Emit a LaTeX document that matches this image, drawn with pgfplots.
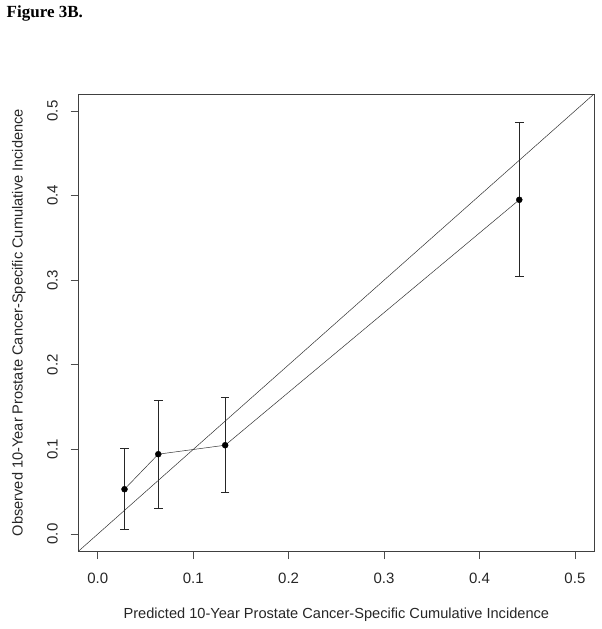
\documentclass[border=0pt]{standalone}
\usepackage{pgfplots}
\pgfplotsset{compat=1.18}
\usepackage{fontspec}
\setmainfont{Liberation Sans}
\newfontfamily\serifb{Liberation Serif}
\pgfplotstableread{
x y ep em
0.0280 0.0530 0.0485 0.0474
0.0634 0.0944 0.0632 0.0640
0.1335 0.1050 0.0570 0.0560
0.4417 0.3950 0.0910 0.0910
}\calib
\begin{document}
\begin{tikzpicture}
\useasboundingbox (0,0) rectangle (602pt,629pt);
\node[anchor=base west, inner sep=0pt] at (6.5pt,611.7pt) {\fontsize{17}{20}\selectfont\serifb\bfseries Figure 3B.};
\begin{axis}[
  at={(78.7pt,78pt)}, anchor=south west,
  scale only axis, width=515.3pt, height=457pt,
  xmin=-0.02, xmax=0.52, ymin=-0.02, ymax=0.52,
  xtick={0,0.1,0.2,0.3,0.4,0.5}, ytick={0,0.1,0.2,0.3,0.4,0.5},
  xticklabels={0.0,0.1,0.2,0.3,0.4,0.5}, yticklabels={0.0,0.1,0.2,0.3,0.4,0.5},
  tick align=outside, tick pos=left,
  major tick length=8pt,
  every tick/.style={black!70, line width=0.8pt},
  axis line style={black!75, line width=0.9pt},
  /pgf/number format/assume math mode=true,
  tick label style={font=\fontsize{15}{17}\selectfont, text=black!85},
  xticklabel style={anchor=base, yshift=-24pt},
  yticklabel style={rotate=90, anchor=south, yshift=9.5pt},
  label style={font=\fontsize{14.6}{17}\selectfont, text=black!85},
  xlabel={Predicted 10-Year Prostate Cancer-Specific Cumulative Incidence},
  ylabel={Observed 10-Year Prostate Cancer-Specific Cumulative Incidence},
  xlabel style={at={(axis description cs:0.5,-0.1400)}, anchor=center},
  ylabel style={at={(axis description cs:-0.1160,0.5)}, anchor=center},
  clip=true,
]
\addplot[black!80, line width=0.5pt] coordinates {(-0.02,-0.02) (0.52,0.52)};
\addplot[black!80, line width=0.5pt, mark=none] table[x=x,y=y] {\calib};
\addplot[only marks, mark=*, mark size=3pt, black,
  error bars/.cd, y dir=both, y explicit,
  error bar style={line width=0.9pt, black!85},
  error mark options={rotate=90, mark size=4.3pt, line width=0.9pt, black!85}]
  table[x=x, y=y, y error plus=ep, y error minus=em] {\calib};
\end{axis}
\end{tikzpicture}
\end{document}
